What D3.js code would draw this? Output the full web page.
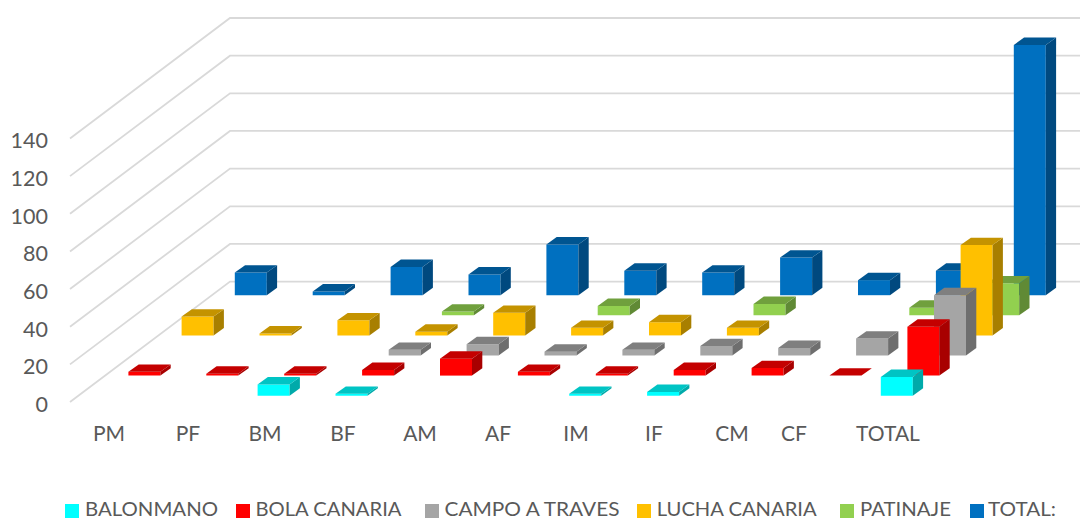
<!DOCTYPE html>
<html>
<head>
<meta charset="utf-8">
<script src="https://cdn.jsdelivr.net/npm/d3@7"></script>
<style>
  html, body { margin: 0; padding: 0; background: #fff; }
  svg { display: block; }
  text { font-family: Lato, "Open Sans", sans-serif; fill: #595959; }
</style>
</head>
<body>
<svg width="1080" height="520"></svg>
<script>
var categories = ["PM", "PF", "BM", "BF", "AM", "AF", "IM", "IF", "CM", "CF", "TOTAL"];
var seriesNames = ["BALONMANO", "BOLA CANARIA", "CAMPO A TRAVES", "LUCHA CANARIA", "PATINAJE", "TOTAL:"];
var tickValues = [0, 20, 40, 60, 80, 100, 120, 140];

// null = empty cell, no bar at all. 0 still draws a flat lid
var balonmano    = [null, null, 6, 1, null, null, 1, 2, null, null, 10];
var bolaCanaria  = [2, 1, 1, 3, 9, 2, 1, 3, 4, 0, 26];
var campoTraves  = [null, null, null, 3, 6, 2, 3, 5, 4, 9, 32];
var luchaCanaria = [10, 1, 8, 2, 12, 4, 7, 4, null, null, 48];
var patinaje     = [null, null, null, 2, null, 5, null, 6, null, 4, 17];
var total        = [12, 2, 15, 11, 27, 13, 12, 20, 8, 13, 133];
var seriesValues = [balonmano, bolaCanaria, campoTraves, luchaCanaria, patinaje, total];

var frontColors = ["#00ffff", "#ff0000", "#a5a5a5", "#ffc000", "#92d050", "#0070c0"];
var topColors   = ["#00c4c4", "#c40000", "#7f7f7f", "#c49300", "#6fa03d", "#005591"];
var sideColors  = ["#00aaaa", "#a80000", "#6e6e6e", "#a87f00", "#618a35", "#004a7f"];

var svg = d3.select("svg");

// the source is a slightly soft screenshot
svg.append("defs").append("filter")
    .attr("id", "soft")
    .attr("x", "-5%").attr("y", "-5%").attr("width", "110%").attr("height", "110%")
  .append("feGaussianBlur")
    .attr("stdDeviation", 0.45);

// Oblique projection: x by category, height by value, depth by series
var x = d3.scalePoint().domain(categories).range([101.8, 880.8]);
var height = d3.scaleLinear().domain([0, 140]).range([0, 263.5]);
var depth = d3.scalePoint().domain(d3.range(seriesNames.length)).range([0, 5]);
var depthX = 26.6, depthY = 20.1;
var barW = 32, lidX = 10.3, lidY = 7.4;
var floorY = 395.7;

var wallFront = d3.scaleLinear().domain([0, 140]).range([402, 138.5]);
var wallBack = d3.scaleLinear().domain([0, 140]).range([281.6, 18]);
var wallLeft = 70, wallRight = 230;

// Walls
var chart = svg.append("g").attr("class", "chart").attr("filter", "url(#soft)");

chart.append("g").attr("class", "grid")
  .selectAll("path")
  .data(tickValues)
  .enter().append("path")
    .attr("fill", "none")
    .attr("stroke", "#d9d9d9")
    .attr("stroke-width", 1.8)
    .attr("d", function(d) {
      return d3.line()([[wallLeft, wallFront(d)], [wallRight, wallBack(d)], [1080, wallBack(d)]]);
    });

var bars = [];
seriesValues.forEach(function(values, k) {
  values.forEach(function(v, i) {
    if (v !== null) bars.push({ series: k, cat: categories[i], value: v });
  });
});
// back row first so the near rows cover it
bars.sort(function(a, b) { return b.series - a.series; });

var bar = chart.append("g").attr("class", "bars")
  .selectAll("g")
  .data(bars)
  .enter().append("g");

function corner(d) {
  var left = x(d.cat) + depth(d.series) * depthX;
  var base = floorY - depth(d.series) * depthY;
  return { left: left, right: left + barW, base: base, top: base - height(d.value) };
}

bar.append("path")
  .attr("fill", function(d) { return frontColors[d.series]; })
  .attr("d", function(d) {
    var c = corner(d);
    return d3.line()([[c.left, c.base], [c.right, c.base], [c.right, c.top], [c.left, c.top]]) + "Z";
  });

bar.append("path")
  .attr("fill", function(d) { return sideColors[d.series]; })
  .attr("d", function(d) {
    var c = corner(d);
    return d3.line()([[c.right, c.base], [c.right + lidX, c.base - lidY], [c.right + lidX, c.top - lidY], [c.right, c.top]]) + "Z";
  });

bar.append("path")
  .attr("fill", function(d) { return topColors[d.series]; })
  .attr("d", function(d) {
    var c = corner(d);
    return d3.line()([[c.left, c.top], [c.right, c.top], [c.right + lidX, c.top - lidY], [c.left + lidX, c.top - lidY]]) + "Z";
  });

// Value axis
var yAxis = d3.axisLeft(wallFront).tickValues(tickValues).tickSize(0).tickPadding(0);
var yAxisG = svg.append("g")
    .attr("transform", "translate(48,2.5)")
    .call(yAxis);
yAxisG.select(".domain").remove();
yAxisG.selectAll("text")
    .style("font-family", "Lato, 'Open Sans', sans-serif")
    .style("font-size", "21.5px")
    .attr("fill", "#595959");

// Category labels sit unevenly in the source chart, CF especially
var labelX = d3.scaleOrdinal().domain(categories)
    .range([109, 188, 265, 343, 420, 498, 576, 654, 732, 794, 888]);

svg.append("g").attr("class", "labels")
  .selectAll("text")
  .data(categories)
  .enter().append("text")
    .attr("x", function(d) { return labelX(d); })
    .attr("y", 441)
    .attr("text-anchor", "middle")
    .style("font-size", "21px")
    .text(function(d) { return d; });

// Legend
var legendSwatch = [65, 236, 425, 637, 840, 970];
var legendText = [85, 255.5, 444.5, 656.7, 860, 988];
var legendWidth = [133, 146, 175, 160, 91, 68];

var legend = svg.append("g").attr("class", "legend")
  .selectAll("g")
  .data(seriesNames)
  .enter().append("g");

legend.append("rect")
    .attr("x", function(d, i) { return legendSwatch[i]; })
    .attr("y", 504)
    .attr("width", 14)
    .attr("height", 14)
    .attr("fill", function(d, i) { return frontColors[i]; });

legend.append("text")
    .attr("x", function(d, i) { return legendText[i]; })
    .attr("y", 516)
    .attr("textLength", function(d, i) { return legendWidth[i]; })
    .attr("lengthAdjust", "spacingAndGlyphs")
    .style("font-size", "20px")
    .text(function(d) { return d; });
</script>
</body>
</html>
